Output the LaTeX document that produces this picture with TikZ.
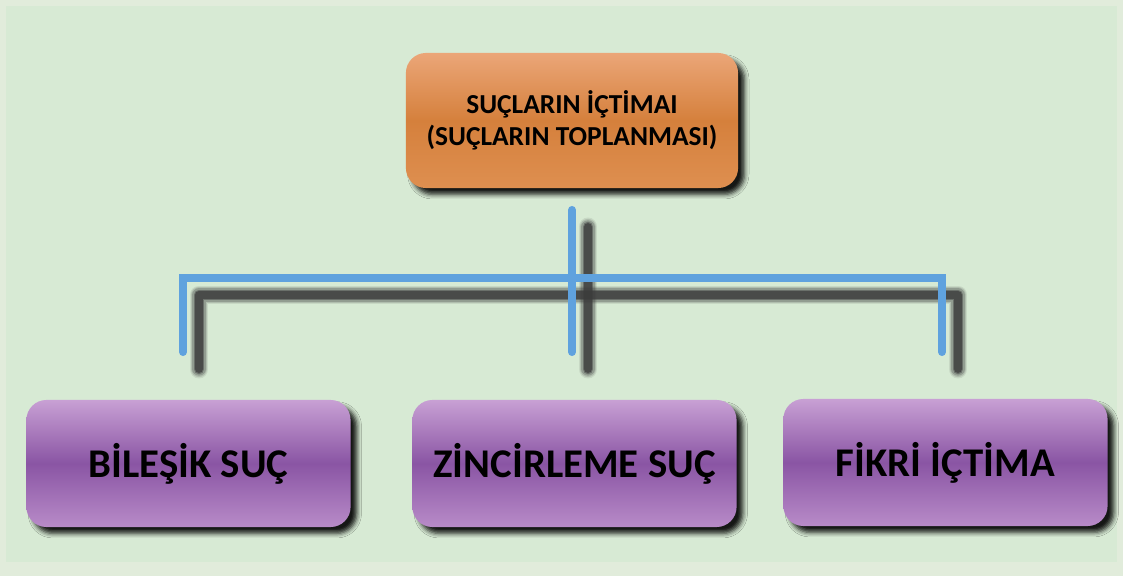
\documentclass[tikz,border=0pt]{standalone}
\usepackage{fontspec}
\setmainfont{Carlito}
\usetikzlibrary{shadows.blur,calc}
\definecolor{bggreen}{HTML}{D7EAD4}
\definecolor{bgedge}{HTML}{E1ECDB}
\definecolor{linkblue}{HTML}{5FA2DE}
\definecolor{shadowgray}{HTML}{3C3C3C}
\definecolor{orTop}{HTML}{EBA678}
\definecolor{orMid}{HTML}{D5803C}
\definecolor{orBot}{HTML}{DE8F50}
\definecolor{puTop}{HTML}{C8A0D4}
\definecolor{puMid}{HTML}{8A55A4}
\definecolor{puBot}{HTML}{B88BC8}
\tikzset{
  box/.style={rounded corners=0.2cm, align=center,
    blur shadow={shadow xshift=1.8pt, shadow yshift=-1.8pt, shadow blur radius=1.3pt, shadow opacity=90}},
  topbox/.style={box, minimum width=3.32cm, minimum height=1.35cm,
    top color=orTop, bottom color=orBot, middle color=orMid, font=\bfseries\fontsize{7.8pt}{9.2pt}\selectfont},
  leafbox/.style={box, minimum width=3.24cm, minimum height=1.27cm,
    top color=puTop, bottom color=puBot, middle color=puMid, font=\bfseries\fontsize{11.6pt}{13pt}\selectfont},
  link/.style={draw=linkblue, line width=2.3pt, line cap=round},
  lsh/.style={draw=shadowgray, line join=round, line cap=round},
}
\newcommand{\shd}[1]{($(#1)+(16,17)$)}
\begin{document}
\begin{tikzpicture}[x=0.01cm, y=-0.01cm]
  \useasboundingbox (0,0) rectangle (1123,576);
  \fill[bgedge] (0,0) rectangle (1123,576);
  \fill[bggreen] (6,6) rectangle (1117,562);

  % nodes
  \node[topbox] (top) at (572,120.5) {SUÇLARIN İÇTİMAI\\(SUÇLARIN TOPLANMASI)};
  \node[leafbox] (bil) at (188.5,463.5) {BİLEŞİK SUÇ};
  \node[leafbox] (zin) at (574.5,463.5) {ZİNCİRLEME SUÇ};
  \node[leafbox] (fik) at (945.5,462.5) {FİKRİ İÇTİMA};

  % connector coordinates
  \coordinate (ts) at (572,210);
  \coordinate (hub) at (572,278);
  \coordinate (hl) at (183,278);
  \coordinate (hr) at (942,278);
  \coordinate (el) at (183,352);
  \coordinate (em) at (572,352);
  \coordinate (er) at (942,352);

  % connector shadows (soft, layered)
  \foreach \w/\o in {5.4pt/0.10, 4.6pt/0.16, 3.8pt/0.26, 3.0pt/0.45, 2.2pt/0.7}{
    \draw[lsh, line width=\w, opacity=\o] \shd{ts} -- \shd{em};
    \draw[lsh, line width=\w, opacity=\o] \shd{el} -- \shd{hl} -- \shd{hr} -- \shd{er};
  }
  % connectors
  \draw[link] (ts) -- (em);
  \draw[link, line join=miter] (el) -- (hl) -- (hr) -- (er);
\end{tikzpicture}
\end{document}
